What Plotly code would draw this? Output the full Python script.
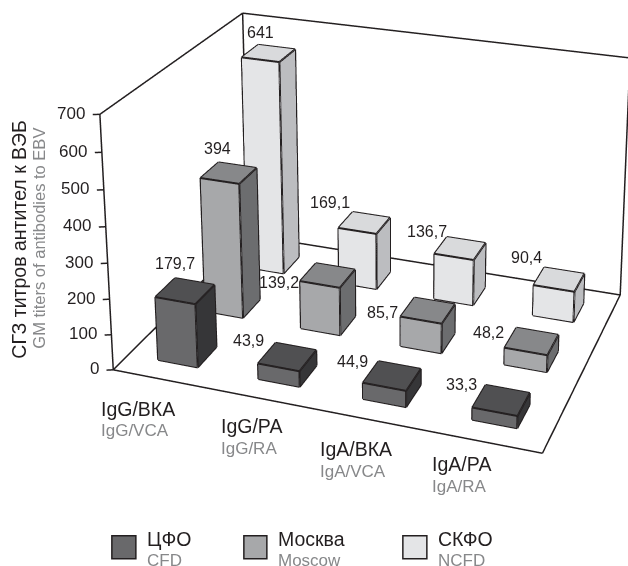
import numpy as np
import plotly.graph_objects as go

categories = ["IgG/ВКА", "IgG/РА", "IgA/ВКА", "IgA/РА"]
categories_en = ["IgG/VCA", "IgG/RA", "IgA/VCA", "IgA/RA"]
series = ["ЦФО", "Москва", "СКФО"]
series_en = ["CFD", "Moscow", "NCFD"]
cfd = [179.7, 43.9, 44.9, 33.3]
moscow = [394, 139.2, 85.7, 48.2]
ncfd = [641, 169.1, 136.7, 90.4]
z_ticks = [0, 100, 200, 300, 400, 500, 600, 700]

W, H = 628, 566
XR = (-0.1, 4.05); YR = (-0.1, 3.05); ZR = (-5, 705)
T225 = np.tan(np.pi / 8)
EYE = np.array([1.2209, -3.2764, 1.6177])
CENTER = np.array([-0.0096, 0.1644, 0.5321])
ASPECT = np.array([1.0, 0.7477, 0.6046])
FPX, PX, PY = 1715.1969, 394.6382, -38.2746
INK = "#231f20"
GRAY = "#87888a"
FONT = "Liberation Sans"

def project(pt):
    lo = np.array([XR[0], YR[0], ZR[0]]); hi = np.array([XR[1], YR[1], ZR[1]])
    n = ((np.array(pt, float) - (lo + hi) / 2) / (hi - lo)) * ASPECT
    f = CENTER - EYE; f = f / np.linalg.norm(f)
    r = np.cross(f, [0, 0, 1.0]); r = r / np.linalg.norm(r)
    up = np.cross(r, f)
    d = n - EYE
    dz = d @ f
    return PX + FPX * (d @ r) / dz, PY - FPX * (d @ up) / dz

FH = int(round(2 * FPX * T225))
FW = int(round(2 * max(PX, W - PX)))
LEFT = PX - FW / 2
TOP = PY - FH / 2
def page(px, py):
    return (px - LEFT) / FW, 1 - (py - TOP) / FH

COL = {0: ("#505052", "#69696b", "#363638"), 1: ("#87888a", "#a7a8aa", "#6c6d6f"), 2: ("#d9dadc", "#e4e5e7", "#bcbdc0")}
BW = 0.4; BD = 0.4
rows = [cfd, moscow, ncfd]
label_pos = [[(175,264),(249,341),(353,362),(462,385)],
             [(218,149),(279,283),(383,313),(489,333)],
             [(261,33),(330,203),(427,232),(527,258)]]
traces = []
ex, ey, ez = [], [], []
scene_notes = []
for j, vals in enumerate(rows):
    X, Y, Z, I, JJ, K, FC = [], [], [], [], [], [], []
    for i, v in enumerate(vals):
        x0, x1 = i + .5 - BW / 2, i + .5 + BW / 2
        y0, y1 = j + .5 - BD / 2, j + .5 + BD / 2
        b = len(X)
        X += [x0, x1, x1, x0, x0, x1, x1, x0]
        Y += [y0, y0, y1, y1, y0, y0, y1, y1]
        Z += [0, 0, 0, 0, v, v, v, v]
        for p, q, s, cc in [(4,5,6,0),(4,6,7,0),(0,1,5,1),(0,5,4,1),(1,2,6,2),(1,6,5,2)]:
            I.append(b + p); JJ.append(b + q); K.append(b + s); FC.append(COL[j][cc])
        for m, n in [(0,1),(1,5),(5,4),(4,0),(5,6),(6,7),(7,4),(1,2),(2,6)]:
            ex += [X[b+m], X[b+n], None]; ey += [Y[b+m], Y[b+n], None]; ez += [Z[b+m], Z[b+n], None]
        ax, ay = project((i + .5, j + .5, v))
        tx, ty = label_pos[j][i]
        scene_notes.append(dict(x=i + .5, y=j + .5, z=v, text=f"{v:g}".replace(".", ","), showarrow=False,
                                xanchor="center", yanchor="middle", xshift=tx - ax, yshift=ay - ty,
                                font=dict(family=FONT, size=16, color=INK)))
    traces.append(go.Mesh3d(x=X, y=Y, z=Z, i=I, j=JJ, k=K, facecolor=FC, flatshading=True, hoverinfo="skip",
                            lighting=dict(ambient=1, diffuse=0, specular=0, fresnel=0, roughness=1), name=series[j]))
traces.append(go.Scatter3d(x=ex, y=ey, z=ez, mode="lines", line=dict(color=INK, width=4), hoverinfo="skip", showlegend=False))

fx, fy, fz = [], [], []
def seg(p, q):
    fx.extend([p[0], q[0], None]); fy.extend([p[1], q[1], None]); fz.extend([p[2], q[2], None])
for p, q in [((0,0,0),(4,0,0)),((4,0,0),(4,3,0)),((4,3,0),(0,3,0)),((0,3,0),(0,0,0)),((0,0,0),(0,0,700)),
             ((0,0,700),(0,3,700)),((0,3,700),(0,3,0)),((0,3,700),(4,3,700)),((4,3,700),(4,3,0))]:
    seg(p, q)
for t in z_ticks:
    seg((0,0,t), (-0.055,-0.0255,t))
    scene_notes.append(dict(x=0, y=0, z=t, text=str(t), showarrow=False, xanchor="right", yanchor="middle",
                            xshift=-12.5, yshift=1, font=dict(family=FONT, size=17, color=INK)))
traces.append(go.Scatter3d(x=fx, y=fy, z=fz, mode="lines", line=dict(color=INK, width=3), hoverinfo="skip", showlegend=False))

notes = []
def note(text, px, py, size, color, anchor="left", angle=0):
    x, y = page(px, py)
    notes.append(dict(text=text, x=x, y=y, xref="paper", yref="paper", showarrow=False, xanchor=anchor, yanchor="middle",
                      textangle=angle, font=dict(family=FONT, size=size, color=color)))

cat_pos = [(101,409,431), (221,426,449), (320,449,472), (432,464,487)]
for name, en, (px, y1, y2) in zip(categories, categories_en, cat_pos):
    note(name, px - 2, y1, 19.5, INK)
    note(en, px - 2, y2, 17, GRAY)
note("СГЗ титров антител к ВЭБ", 19, 239, 19.5, INK, "center", -90)
note("GM titers of antibodies to EBV", 39, 238, 16.5, GRAY, "center", -90)

shapes = []
for name, en, (x0, x1, tx), col in zip(series, series_en, [(112,136,147), (244,267,278), (403,427,438)], COL.values()):
    a0 = page(x0, 536); a1 = page(x1, 559)
    shapes.append(dict(type="rect", xref="paper", yref="paper", x0=a0[0], x1=a1[0], y0=a0[1], y1=a1[1],
                       fillcolor=col[1], line=dict(color=INK, width=1.5)))
    note(name, tx - 1.5, 539, 19.5, INK)
    note(en, tx - 1.5, 561, 17, GRAY)

ax_off = dict(visible=False, showspikes=False)
fig = go.Figure(traces)
fig.update_layout(width=FW, height=FH, margin=dict(l=0, r=0, t=0, b=0), paper_bgcolor="white", showlegend=False,
    shapes=shapes, annotations=notes,
    scene=dict(domain=dict(x=[0,1], y=[0,1]), xaxis=dict(range=XR, **ax_off), yaxis=dict(range=YR, **ax_off), zaxis=dict(range=ZR, **ax_off),
               aspectmode="manual", aspectratio=dict(x=ASPECT[0], y=ASPECT[1], z=ASPECT[2]), annotations=scene_notes,
               camera=dict(eye=dict(x=EYE[0], y=EYE[1], z=EYE[2]), center=dict(x=CENTER[0], y=CENTER[1], z=CENTER[2]),
                           up=dict(x=0, y=0, z=1), projection=dict(type="perspective"))))
fig.write_html("out.html", config=dict(displayModeBar=False),
    post_script=f"document.documentElement.style.overflow='hidden';document.body.style.cssText='margin:{TOP:.2f}px 0 0 {LEFT:.2f}px;overflow:hidden';")
